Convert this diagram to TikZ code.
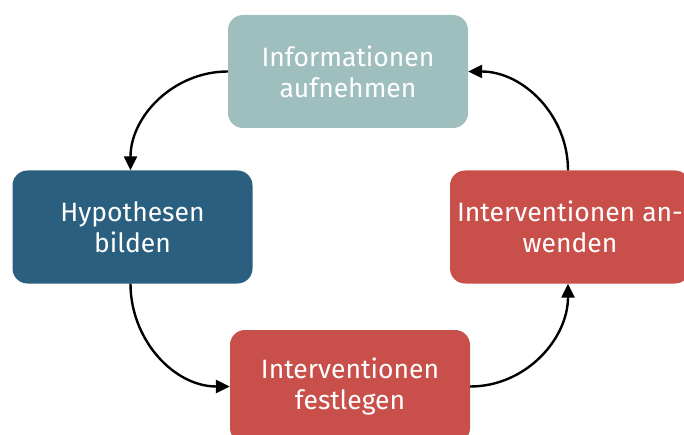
\documentclass[tikz,border=0pt]{standalone}
\usepackage{fontspec}
\setmainfont{Fira Sans}
\usetikzlibrary{arrows.meta}
\definecolor{teal1}{HTML}{9FBFBE}
\definecolor{blue1}{HTML}{2A5F80}
\definecolor{red1}{HTML}{C9504A}
\tikzset{
  stage/.style={rounded corners=15pt, minimum width=240pt, minimum height=113pt, text=white, align=center, font=\fontsize{26.5}{31}\selectfont, inner sep=0pt},
  flow/.style={line width=2.4pt, -{Triangle[length=14pt,width=13pt]}}
}
\begin{document}
\begin{tikzpicture}[x=1pt,y=-1pt]
\useasboundingbox (0,0) rectangle (684,435);
\node[stage, fill=teal1] (info) at (348,71.5) {Informationen\\aufnehmen};
\node[stage, fill=blue1] (hyp) at (132.5,227) {Hypothesen\\bilden};
\node[stage, fill=red1] (anw) at (570,227) {Interventionen an-\\wenden};
\node[stage, fill=red1] (fest) at (350,386.5) {Interventionen\\festlegen};
\draw[flow] (info.west) to[out=180,in=90] ([xshift=-2pt]hyp.north);
\draw[flow] ([xshift=-2pt]hyp.south) to[out=-90,in=180] (fest.west);
\draw[flow] (fest.east) to[out=0,in=-90] ([xshift=-2pt]anw.south);
\draw[flow] ([xshift=-2pt]anw.north) to[out=90,in=0] (info.east);
\end{tikzpicture}
\end{document}
